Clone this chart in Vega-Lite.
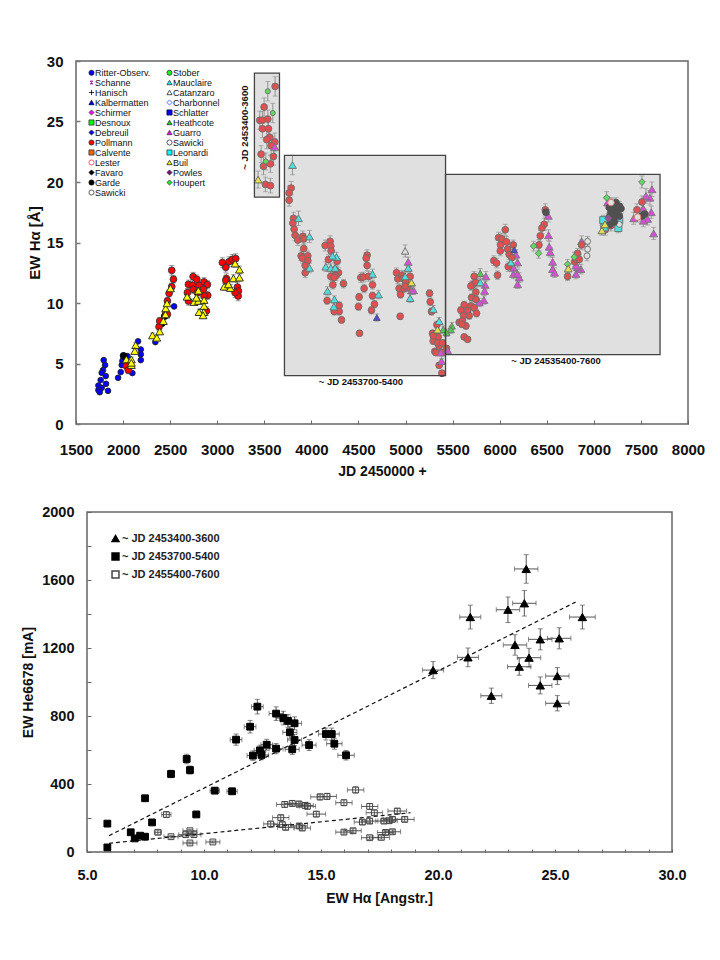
{"$schema":"https://vega.github.io/schema/vega-lite/v6.json","background":"white","padding":{"left":21,"top":53,"right":5,"bottom":5},"spacing":25,"resolve":{"scale":{"fill":"independent","stroke":"independent","shape":"independent","size":"independent"},"legend":{"fill":"independent","stroke":"independent","shape":"independent"}},"config":{"view":{"stroke":"#666","strokeWidth":1.5},"font":"Liberation Sans"},
"datasets":{
"ha":[
{"s":"Ritter-Observ.","x":1794,"y":5.28,"e":0.1},{"s":"Ritter-Observ.","x":1809,"y":4.87,"e":0.1},{"s":"Ritter-Observ.","x":1787,"y":4.45,"e":0.1},{"s":"Ritter-Observ.","x":1773,"y":4.23,"e":0.1},{"s":"Ritter-Observ.","x":1816,"y":3.96,"e":0.1},{"s":"Ritter-Observ.","x":1762,"y":3.63,"e":0.1},{"s":"Ritter-Observ.","x":1819,"y":3.32,"e":0.1},{"s":"Ritter-Observ.","x":1738,"y":3.18,"e":0.1},{"s":"Ritter-Observ.","x":1773,"y":2.99,"e":0.1},{"s":"Ritter-Observ.","x":1738,"y":2.8,"e":0.1},{"s":"Ritter-Observ.","x":1840,"y":2.74,"e":0.1},{"s":"Ritter-Observ.","x":1752,"y":2.63,"e":0.1},{"s":"Ritter-Observ.","x":1947,"y":3.82,"e":0.1},{"s":"Ritter-Observ.","x":1975,"y":4.29,"e":0.1},{"s":"Ritter-Observ.","x":1986,"y":4.87,"e":0.1},{"s":"Ritter-Observ.","x":2000,"y":5.67,"e":0.1},{"s":"Ritter-Observ.","x":2003,"y":5.34,"e":0.1},{"s":"Ritter-Observ.","x":2099,"y":4.21,"e":0.1},{"s":"Ritter-Observ.","x":2188,"y":6.16,"e":0.1},{"s":"Ritter-Observ.","x":2188,"y":5.75,"e":0.1},{"s":"Ritter-Observ.","x":2188,"y":5.28,"e":0.1},{"s":"Ritter-Observ.","x":2159,"y":6.83,"e":0.1},{"s":"Ritter-Observ.","x":2343,"y":6.77,"e":0.1},{"s":"Ritter-Observ.","x":2542,"y":9.72,"e":0.1},{"s":"Ritter-Observ.","x":2046,"y":5.61,"e":0.1},{"s":"Ritter-Observ.","x":1993,"y":5.2,"e":0.1},
{"s":"Garde","x":2443,"y":8.92,"e":0.2},{"s":"Garde","x":2411,"y":8.32,"e":0.2},{"s":"Garde","x":2056,"y":4.84,"e":0.2},{"s":"Garde","x":2010,"y":5.61,"e":0.2},
{"s":"Pollmann","x":2035,"y":4.8,"e":0.3},{"s":"Pollmann","x":2056,"y":4.45,"e":0.3},{"s":"Pollmann","x":2517,"y":12.7,"e":0.4},{"s":"Pollmann","x":2535,"y":11.96,"e":0.3},{"s":"Pollmann","x":2517,"y":11.35,"e":0.3},{"s":"Pollmann","x":2489,"y":10.8,"e":0.3},{"s":"Pollmann","x":2471,"y":10.17,"e":0.3},{"s":"Pollmann","x":2453,"y":9.2,"e":0.3},{"s":"Pollmann","x":2471,"y":9.06,"e":0.3},{"s":"Pollmann","x":2382,"y":8.04,"e":0.3},{"s":"Pollmann","x":2389,"y":8.51,"e":0.3},
{"s":"Pollmann","x":2744,"y":12.18,"e":0.35},{"s":"Pollmann","x":2783,"y":11.96,"e":0.35},{"s":"Pollmann","x":2694,"y":11.54,"e":0.35},{"s":"Pollmann","x":2737,"y":11.46,"e":0.35},{"s":"Pollmann","x":2807,"y":11.46,"e":0.35},{"s":"Pollmann","x":2860,"y":11.74,"e":0.35},{"s":"Pollmann","x":2896,"y":11.52,"e":0.35},{"s":"Pollmann","x":2683,"y":10.85,"e":0.35},{"s":"Pollmann","x":2744,"y":11.13,"e":0.35},{"s":"Pollmann","x":2853,"y":11.13,"e":0.35},{"s":"Pollmann","x":2899,"y":10.63,"e":0.35},{"s":"Pollmann","x":2694,"y":10.17,"e":0.35},{"s":"Pollmann","x":2790,"y":10.85,"e":0.35},{"s":"Pollmann","x":2860,"y":10.58,"e":0.35},{"s":"Pollmann","x":2885,"y":9.34,"e":0.35},
{"s":"Pollmann","x":3055,"y":13.34,"e":0.4},{"s":"Pollmann","x":3091,"y":12.95,"e":0.4},{"s":"Pollmann","x":3126,"y":13.42,"e":0.4},{"s":"Pollmann","x":3162,"y":13.61,"e":0.4},{"s":"Pollmann","x":3197,"y":13.67,"e":0.4},{"s":"Pollmann","x":3098,"y":12.01,"e":0.4},{"s":"Pollmann","x":3091,"y":11.88,"e":0.4},{"s":"Pollmann","x":3215,"y":11.32,"e":0.4},{"s":"Pollmann","x":3225,"y":10.99,"e":0.4},{"s":"Pollmann","x":3222,"y":10.58,"e":0.4},{"s":"Pollmann","x":3190,"y":10.85,"e":0.4},
{"s":"Pollmann","x":3615,"y":27.9,"e":0.8},{"s":"Pollmann","x":3498,"y":26.2,"e":0.75},{"s":"Pollmann","x":3537,"y":25.2,"e":0.75},{"s":"Pollmann","x":3452,"y":25.1,"e":0.75},{"s":"Pollmann","x":3480,"y":25.1,"e":0.75},{"s":"Pollmann","x":3480,"y":24.4,"e":0.75},{"s":"Pollmann","x":3544,"y":24.4,"e":0.75},{"s":"Pollmann","x":3558,"y":23.7,"e":0.75},{"s":"Pollmann","x":3526,"y":23.5,"e":0.75},{"s":"Pollmann","x":3611,"y":23.3,"e":0.75},{"s":"Pollmann","x":3572,"y":23.0,"e":0.75},{"s":"Pollmann","x":3466,"y":22.3,"e":0.7},{"s":"Pollmann","x":3597,"y":22.1,"e":0.7},{"s":"Pollmann","x":3565,"y":21.5,"e":0.7},{"s":"Pollmann","x":3491,"y":21.3,"e":0.7},{"s":"Pollmann","x":3512,"y":19.8,"e":0.6},{"s":"Pollmann","x":3565,"y":19.7,"e":0.6},
{"s":"Pollmann","x":3785,"y":19.5,"e":0.55},{"s":"Pollmann","x":3764,"y":19.1,"e":0.55},{"s":"Pollmann","x":3764,"y":18.5,"e":0.5},{"s":"Pollmann","x":3810,"y":17.0,"e":0.5},{"s":"Pollmann","x":3803,"y":16.6,"e":0.5},{"s":"Pollmann","x":3817,"y":16.1,"e":0.5},{"s":"Pollmann","x":3827,"y":15.6,"e":0.45},{"s":"Pollmann","x":3856,"y":15.2,"e":0.45},{"s":"Pollmann","x":3909,"y":15.5,"e":0.45},{"s":"Pollmann","x":3919,"y":15.3,"e":0.45},{"s":"Pollmann","x":3919,"y":14.5,"e":0.45},{"s":"Pollmann","x":3891,"y":13.9,"e":0.4},{"s":"Pollmann","x":3962,"y":13.9,"e":0.4},{"s":"Pollmann","x":3905,"y":13.7,"e":0.4},{"s":"Pollmann","x":3962,"y":13.5,"e":0.4},{"s":"Pollmann","x":3934,"y":13.1,"e":0.4},{"s":"Pollmann","x":3934,"y":12.5,"e":0.4},
{"s":"Pollmann","x":4146,"y":14.75,"e":0.45},{"s":"Pollmann","x":4199,"y":15.1,"e":0.45},{"s":"Pollmann","x":4206,"y":14.7,"e":0.45},{"s":"Pollmann","x":4210,"y":14.3,"e":0.45},{"s":"Pollmann","x":4181,"y":13.6,"e":0.4},{"s":"Pollmann","x":4274,"y":13.45,"e":0.4},{"s":"Pollmann","x":4252,"y":12.75,"e":0.4},{"s":"Pollmann","x":4288,"y":12.5,"e":0.4},{"s":"Pollmann","x":4259,"y":12.25,"e":0.4},{"s":"Pollmann","x":4206,"y":12.2,"e":0.4},{"s":"Pollmann","x":4242,"y":12.1,"e":0.4},{"s":"Pollmann","x":4228,"y":11.5,"e":0.35},{"s":"Pollmann","x":4341,"y":11.6,"e":0.35},{"s":"Pollmann","x":4167,"y":10.2,"e":0.3},{"s":"Pollmann","x":4295,"y":9.8,"e":0.3},{"s":"Pollmann","x":4295,"y":9.3,"e":0.3},{"s":"Pollmann","x":4242,"y":9.3,"e":0.3},{"s":"Pollmann","x":4320,"y":8.6,"e":0.25},
{"s":"Pollmann","x":4592,"y":13.95,"e":0.45},{"s":"Pollmann","x":4582,"y":13.7,"e":0.45},{"s":"Pollmann","x":4592,"y":13.1,"e":0.4},{"s":"Pollmann","x":4525,"y":12.1,"e":0.4},{"s":"Pollmann","x":4553,"y":12.15,"e":0.4},{"s":"Pollmann","x":4607,"y":12.2,"e":0.4},{"s":"Pollmann","x":4560,"y":11.2,"e":0.35},{"s":"Pollmann","x":4649,"y":11.5,"e":0.35},{"s":"Pollmann","x":4507,"y":10.5,"e":0.3},{"s":"Pollmann","x":4649,"y":10.6,"e":0.3},{"s":"Pollmann","x":4500,"y":9.7,"e":0.3},{"s":"Pollmann","x":4670,"y":9.9,"e":0.3},{"s":"Pollmann","x":4638,"y":9.4,"e":0.3},{"s":"Pollmann","x":4511,"y":7.5,"e":0.2},
{"s":"Pollmann","x":4904,"y":12.5,"e":0.4},{"s":"Pollmann","x":4918,"y":12.0,"e":0.4},{"s":"Pollmann","x":4961,"y":12.3,"e":0.4},{"s":"Pollmann","x":4975,"y":12.0,"e":0.4},{"s":"Pollmann","x":5049,"y":12.2,"e":0.4},{"s":"Pollmann","x":5003,"y":11.8,"e":0.35},{"s":"Pollmann","x":4932,"y":11.2,"e":0.35},{"s":"Pollmann","x":4986,"y":11.2,"e":0.35},{"s":"Pollmann","x":5021,"y":11.3,"e":0.35},{"s":"Pollmann","x":4947,"y":10.7,"e":0.3},{"s":"Pollmann","x":4996,"y":11.4,"e":0.35},{"s":"Pollmann","x":4943,"y":8.9,"e":0.25},
{"s":"Pollmann","x":5255,"y":10.8,"e":0.3},{"s":"Pollmann","x":5262,"y":10.1,"e":0.3},{"s":"Pollmann","x":5276,"y":9.3,"e":0.3},{"s":"Pollmann","x":5333,"y":8.2,"e":0.3},{"s":"Pollmann","x":5287,"y":7.5,"e":0.25},{"s":"Pollmann","x":5347,"y":7.2,"e":0.25},{"s":"Pollmann","x":5294,"y":6.85,"e":0.25},{"s":"Pollmann","x":5357,"y":6.45,"e":0.25},{"s":"Pollmann","x":5311,"y":6.0,"e":0.2},{"s":"Pollmann","x":5382,"y":5.9,"e":0.2},{"s":"Pollmann","x":5435,"y":6.25,"e":0.2},{"s":"Pollmann","x":5393,"y":5.9,"e":0.2},{"s":"Pollmann","x":5357,"y":4.85,"e":0.2},{"s":"Pollmann","x":5386,"y":4.2,"e":0.2},{"s":"Pollmann","x":5294,"y":7.3,"e":0.25},{"s":"Pollmann","x":5340,"y":6.7,"e":0.25},{"s":"Pollmann","x":5393,"y":6.7,"e":0.25},{"s":"Pollmann","x":5322,"y":5.9,"e":0.2},
{"s":"Guarro","x":5853,"y":12.2,"e":0.4},{"s":"Guarro","x":5846,"y":11.5,"e":0.4},{"s":"Guarro","x":5839,"y":11.0,"e":0.35},{"s":"Guarro","x":5832,"y":10.25,"e":0.35},{"s":"Guarro","x":5783,"y":10.05,"e":0.35},{"s":"Guarro","x":6172,"y":14.0,"e":0.4},{"s":"Guarro","x":6190,"y":13.35,"e":0.4},{"s":"Guarro","x":6147,"y":12.9,"e":0.4},{"s":"Guarro","x":6147,"y":12.4,"e":0.4},{"s":"Guarro","x":6208,"y":12.1,"e":0.4},{"s":"Guarro","x":6190,"y":11.55,"e":0.35},{"s":"Guarro","x":6190,"y":12.4,"e":0.4},{"s":"Guarro","x":6516,"y":17.2,"e":0.5},{"s":"Guarro","x":6519,"y":15.6,"e":0.45},{"s":"Guarro","x":6526,"y":14.65,"e":0.45},{"s":"Guarro","x":6537,"y":14.2,"e":0.4},{"s":"Guarro","x":6562,"y":13.4,"e":0.4},{"s":"Guarro","x":6562,"y":12.8,"e":0.4},{"s":"Guarro","x":6583,"y":12.5,"e":0.4},{"s":"Guarro","x":6870,"y":15.1,"e":0.45},{"s":"Guarro","x":6863,"y":12.8,"e":0.4},{"s":"Guarro","x":6810,"y":12.4,"e":0.4},{"s":"Guarro","x":6827,"y":12.95,"e":0.4},{"s":"Guarro","x":6810,"y":13.1,"e":0.4},{"s":"Guarro","x":7423,"y":17.0,"e":0.5},{"s":"Guarro","x":7617,"y":19.4,"e":0.6},{"s":"Guarro","x":7596,"y":18.7,"e":0.6},{"s":"Guarro","x":7554,"y":18.85,"e":0.6},{"s":"Guarro","x":7610,"y":17.5,"e":0.5},{"s":"Guarro","x":7525,"y":17.8,"e":0.5},{"s":"Guarro","x":7635,"y":15.75,"e":0.5},{"s":"Guarro","x":7571,"y":16.95,"e":0.5},{"s":"Guarro","x":7146,"y":18.3,"e":0.5},{"s":"Guarro","x":7525,"y":16.8,"e":0.5},{"s":"Guarro","x":5028,"y":13.4,"e":0.4},{"s":"Guarro","x":5063,"y":11.05,"e":0.35},{"s":"Guarro","x":5085,"y":11.05,"e":0.35},{"s":"Guarro","x":5382,"y":5.2,"e":0.2},{"s":"Guarro","x":5375,"y":5.9,"e":0.2},{"s":"Guarro","x":5446,"y":6.1,"e":0.2},{"s":"Guarro","x":3611,"y":22.9,"e":0.7},
{"s":"Pollmann","x":5729,"y":12.2,"e":0.4},{"s":"Pollmann","x":5712,"y":11.5,"e":0.35},{"s":"Pollmann","x":5747,"y":11.7,"e":0.35},{"s":"Pollmann","x":5694,"y":11.4,"e":0.35},{"s":"Pollmann","x":5747,"y":10.9,"e":0.35},{"s":"Pollmann","x":5701,"y":10.45,"e":0.3},{"s":"Pollmann","x":5747,"y":10.3,"e":0.3},{"s":"Pollmann","x":5623,"y":9.85,"e":0.3},{"s":"Pollmann","x":5694,"y":9.75,"e":0.3},{"s":"Pollmann","x":5588,"y":9.4,"e":0.3},{"s":"Pollmann","x":5659,"y":9.35,"e":0.3},{"s":"Pollmann","x":5729,"y":9.6,"e":0.3},{"s":"Pollmann","x":5754,"y":9.15,"e":0.3},{"s":"Pollmann","x":5676,"y":8.95,"e":0.3},{"s":"Pollmann","x":5616,"y":8.95,"e":0.3},{"s":"Pollmann","x":5570,"y":8.4,"e":0.25},{"s":"Pollmann","x":5605,"y":8.5,"e":0.25},{"s":"Pollmann","x":5641,"y":8.1,"e":0.25},{"s":"Pollmann","x":5598,"y":8.25,"e":0.25},{"s":"Pollmann","x":5623,"y":7.2,"e":0.2},{"s":"Pollmann","x":5659,"y":7.0,"e":0.2},
{"s":"Pollmann","x":6059,"y":16.05,"e":0.45},{"s":"Pollmann","x":5988,"y":15.4,"e":0.45},{"s":"Pollmann","x":6023,"y":15.3,"e":0.45},{"s":"Pollmann","x":6073,"y":15.05,"e":0.45},{"s":"Pollmann","x":6009,"y":14.8,"e":0.45},{"s":"Pollmann","x":6006,"y":14.3,"e":0.4},{"s":"Pollmann","x":6084,"y":14.45,"e":0.4},{"s":"Pollmann","x":6101,"y":14.0,"e":0.4},{"s":"Pollmann","x":6144,"y":14.8,"e":0.4},{"s":"Pollmann","x":6130,"y":13.75,"e":0.4},{"s":"Pollmann","x":6091,"y":13.0,"e":0.4},{"s":"Pollmann","x":5938,"y":13.5,"e":0.4},{"s":"Pollmann","x":5967,"y":13.3,"e":0.4},{"s":"Pollmann","x":5977,"y":12.3,"e":0.35},{"s":"Pollmann","x":6484,"y":17.7,"e":0.5},{"s":"Pollmann","x":6473,"y":16.5,"e":0.5},{"s":"Pollmann","x":6449,"y":16.2,"e":0.45},{"s":"Pollmann","x":6431,"y":15.55,"e":0.45},{"s":"Pollmann","x":6417,"y":14.8,"e":0.45},{"s":"Pollmann","x":6827,"y":14.1,"e":0.4},{"s":"Pollmann","x":6870,"y":14.8,"e":0.4},{"s":"Pollmann","x":6796,"y":13.4,"e":0.4},{"s":"Pollmann","x":6810,"y":13.6,"e":0.4},{"s":"Pollmann","x":6721,"y":12.2,"e":0.35},{"s":"Pollmann","x":6845,"y":13.6,"e":0.4},{"s":"Pollmann","x":7458,"y":17.7,"e":0.5},{"s":"Pollmann","x":7511,"y":18.35,"e":0.5},{"s":"Pollmann","x":7121,"y":16.05,"e":0.45},{"s":"Pollmann","x":7182,"y":16.4,"e":0.45},
{"s":"Mauclaire","x":3799,"y":21.4,"e":0.8},{"s":"Mauclaire","x":3863,"y":17.0,"e":0.6},{"s":"Mauclaire","x":3980,"y":15.5,"e":0.5},{"s":"Mauclaire","x":3980,"y":12.9,"e":0.4},{"s":"Mauclaire","x":4267,"y":13.8,"e":0.4},{"s":"Mauclaire","x":4224,"y":13.9,"e":0.4},{"s":"Mauclaire","x":4153,"y":13.0,"e":0.4},{"s":"Mauclaire","x":4206,"y":12.9,"e":0.4},{"s":"Mauclaire","x":4252,"y":12.9,"e":0.4},{"s":"Mauclaire","x":4171,"y":11.0,"e":0.35},{"s":"Mauclaire","x":4245,"y":10.3,"e":0.3},{"s":"Mauclaire","x":4238,"y":9.7,"e":0.3},{"s":"Mauclaire","x":4649,"y":12.4,"e":0.4},{"s":"Mauclaire","x":4713,"y":10.7,"e":0.35},{"s":"Mauclaire","x":5028,"y":12.9,"e":0.4},{"s":"Mauclaire","x":5049,"y":10.4,"e":0.35},{"s":"Mauclaire","x":4996,"y":12.2,"e":0.4},{"s":"Mauclaire","x":5294,"y":9.5,"e":0.3},{"s":"Mauclaire","x":5357,"y":8.5,"e":0.3},{"s":"Mauclaire","x":6119,"y":13.35,"e":0.4},{"s":"Mauclaire","x":5793,"y":11.7,"e":0.35},
{"s":"Catanzaro","x":4996,"y":14.3,"e":0.5},{"s":"Kalbermatten","x":4695,"y":8.8,"e":0.3},{"s":"Kalbermatten","x":6154,"y":14.4,"e":0.4},
{"s":"Heathcote","x":5400,"y":7.8,"e":0.3},{"s":"Heathcote","x":5492,"y":8.1,"e":0.3},{"s":"Heathcote","x":5481,"y":7.8,"e":0.3},{"s":"Heathcote","x":5793,"y":12.45,"e":0.4},{"s":"Heathcote","x":5435,"y":7.55,"e":0.3},
{"s":"Stober","x":3537,"y":27.5,"e":0.8},{"s":"Stober","x":3590,"y":25.7,"e":0.8},{"s":"Stober","x":3516,"y":21.7,"e":0.7},
{"s":"Houpert","x":6360,"y":14.7,"e":0.4},{"s":"Houpert","x":6413,"y":14.1,"e":0.4},{"s":"Houpert","x":6721,"y":13.2,"e":0.4},{"s":"Houpert","x":7136,"y":18.7,"e":0.5},{"s":"Houpert","x":7511,"y":20.0,"e":0.5},{"s":"Houpert","x":6792,"y":13.8,"e":0.4},
{"s":"Leonardi","x":7100,"y":16.85,"e":0.4},{"s":"Leonardi","x":7270,"y":16.85,"e":0.4},{"s":"Leonardi","x":7260,"y":16.2,"e":0.4},{"s":"Leonardi","x":7111,"y":16.25,"e":0.4},
{"s":"Sawicki ","x":6934,"y":15.1,"e":0.4},{"s":"Sawicki ","x":6934,"y":14.45,"e":0.4},{"s":"Sawicki ","x":6927,"y":13.9,"e":0.4},{"s":"Sawicki ","x":7263,"y":17.1,"e":0.4},{"s":"Sawicki ","x":7270,"y":16.5,"e":0.4},
{"s":"Garde","x":7164,"y":17.9,"e":0.4},{"s":"Garde","x":7199,"y":18.2,"e":0.4},{"s":"Garde","x":7235,"y":18.3,"e":0.4},{"s":"Garde","x":7270,"y":18.0,"e":0.4},{"s":"Garde","x":7182,"y":17.5,"e":0.4},{"s":"Garde","x":7235,"y":17.5,"e":0.4},{"s":"Garde","x":7288,"y":17.8,"e":0.4},{"s":"Garde","x":7164,"y":17.1,"e":0.4},{"s":"Garde","x":7217,"y":17.1,"e":0.4},{"s":"Garde","x":7270,"y":17.2,"e":0.4},{"s":"Garde","x":7171,"y":16.5,"e":0.4},{"s":"Garde","x":7217,"y":18.0,"e":0.4},{"s":"Garde","x":7253,"y":17.8,"e":0.4},{"s":"Garde","x":6491,"y":17.5,"e":0.4},{"s":"Garde","x":7511,"y":17.2,"e":0.4},{"s":"Garde","x":7539,"y":17.35,"e":0.4},{"s":"Garde","x":7217,"y":16.7,"e":0.4},
{"s":"Powles","x":7153,"y":17.0,"e":0.4},{"s":"Lester","x":7182,"y":18.3,"e":0.4},{"s":"Lester","x":7465,"y":17.1,"e":0.4},
{"s":"Buil","x":2035,"y":5.34,"e":0.2},{"s":"Buil","x":2088,"y":5.34,"e":0.2},{"s":"Buil","x":2088,"y":4.87,"e":0.2},{"s":"Buil","x":2088,"y":5.06,"e":0.2},{"s":"Buil","x":2134,"y":6.52,"e":0.2},{"s":"Buil","x":2124,"y":6.03,"e":0.2},{"s":"Buil","x":2312,"y":7.32,"e":0.2},{"s":"Buil","x":2358,"y":7.13,"e":0.2},{"s":"Buil","x":2389,"y":7.65,"e":0.2},{"s":"Buil","x":2428,"y":8.51,"e":0.2},{"s":"Buil","x":2450,"y":9.06,"e":0.2},{"s":"Buil","x":2453,"y":9.56,"e":0.2},{"s":"Buil","x":2467,"y":9.97,"e":0.2},{"s":"Buil","x":2503,"y":11.21,"e":0.2},
{"s":"Buil","x":2680,"y":10.52,"e":0.25},{"s":"Buil","x":2800,"y":11.02,"e":0.25},{"s":"Buil","x":2754,"y":10.08,"e":0.25},{"s":"Buil","x":2800,"y":10.17,"e":0.25},{"s":"Buil","x":2860,"y":10.25,"e":0.25},{"s":"Buil","x":2860,"y":9.75,"e":0.25},{"s":"Buil","x":2857,"y":9.25,"e":0.25},{"s":"Buil","x":2807,"y":9.25,"e":0.25},{"s":"Buil","x":2850,"y":8.98,"e":0.25},{"s":"Buil","x":2779,"y":10.44,"e":0.25},
{"s":"Buil","x":3190,"y":13.26,"e":0.3},{"s":"Buil","x":3236,"y":12.76,"e":0.3},{"s":"Buil","x":3172,"y":12.04,"e":0.3},{"s":"Buil","x":3236,"y":12.1,"e":0.3},{"s":"Buil","x":3073,"y":11.35,"e":0.3},{"s":"Buil","x":3140,"y":11.24,"e":0.3},{"s":"Buil","x":3119,"y":11.54,"e":0.3},{"s":"Buil","x":3434,"y":20.2,"e":0.7},{"s":"Buil","x":5340,"y":7.8,"e":0.3},{"s":"Buil","x":5063,"y":11.7,"e":0.35},{"s":"Buil","x":6728,"y":12.85,"e":0.4},{"s":"Buil","x":7086,"y":16.0,"e":0.4},{"s":"Buil","x":7118,"y":16.5,"e":0.4}
],
"boxes":[{"a":3395,"b":3661,"lo":18.75,"hi":29.0},{"a":3714,"b":5425,"lo":3.99,"hi":22.2},{"a":5425,"b":7703,"lo":5.73,"hi":20.63}],
"boxlabels":[{"t":"~ JD 2453400-3600","x":3293,"y":24.49,"r":"v"},{"t":"~ JD 2453700-5400","x":4525,"y":3.44,"r":"h"},{"t":"~ JD 24535400-7600","x":6598,"y":5.17,"r":"h"}],
"frame":[{"a":5,"b":30,"lo":0,"hi":2000}],
"he":[
{"s":"~ JD 2453400-3600","x":23.77,"y":1665,"xe":0.5,"ye":84},{"s":"~ JD 2453400-3600","x":23.69,"y":1463,"xe":0.5,"ye":75},{"s":"~ JD 2453400-3600","x":22.99,"y":1425,"xe":0.5,"ye":75},{"s":"~ JD 2453400-3600","x":21.38,"y":1382,"xe":0.45,"ye":70},{"s":"~ JD 2453400-3600","x":26.17,"y":1382,"xe":0.55,"ye":70},{"s":"~ JD 2453400-3600","x":24.37,"y":1251,"xe":0.5,"ye":62},{"s":"~ JD 2453400-3600","x":25.18,"y":1257,"xe":0.5,"ye":62},{"s":"~ JD 2453400-3600","x":23.29,"y":1218,"xe":0.5,"ye":60},{"s":"~ JD 2453400-3600","x":23.89,"y":1143,"xe":0.5,"ye":55},{"s":"~ JD 2453400-3600","x":21.28,"y":1145,"xe":0.45,"ye":55},{"s":"~ JD 2453400-3600","x":19.79,"y":1070,"xe":0.45,"ye":50},{"s":"~ JD 2453400-3600","x":23.47,"y":1090,"xe":0.5,"ye":50},{"s":"~ JD 2453400-3600","x":25.1,"y":1035,"xe":0.5,"ye":50},{"s":"~ JD 2453400-3600","x":24.37,"y":980,"xe":0.5,"ye":50},{"s":"~ JD 2453400-3600","x":22.28,"y":919,"xe":0.45,"ye":45},{"s":"~ JD 2453400-3600","x":25.1,"y":875,"xe":0.5,"ye":45},
{"s":"~ JD 2453700-5400","x":5.87,"y":167,"xe":0.1,"ye":8},{"s":"~ JD 2453700-5400","x":5.87,"y":27,"xe":0.1,"ye":5},{"s":"~ JD 2453700-5400","x":6.87,"y":116,"xe":0.1,"ye":6},{"s":"~ JD 2453700-5400","x":7.04,"y":80,"xe":0.1,"ye":5},{"s":"~ JD 2453700-5400","x":7.27,"y":96,"xe":0.1,"ye":5},{"s":"~ JD 2453700-5400","x":7.48,"y":90,"xe":0.1,"ye":5},{"s":"~ JD 2453700-5400","x":7.48,"y":316,"xe":0.1,"ye":15},{"s":"~ JD 2453700-5400","x":7.78,"y":174,"xe":0.1,"ye":9},{"s":"~ JD 2453700-5400","x":8.59,"y":459,"xe":0.1,"ye":22},{"s":"~ JD 2453700-5400","x":9.26,"y":547,"xe":0.1,"ye":28},{"s":"~ JD 2453700-5400","x":9.4,"y":482,"xe":0.1,"ye":24},{"s":"~ JD 2453700-5400","x":9.67,"y":221,"xe":0.15,"ye":11},{"s":"~ JD 2453700-5400","x":10.46,"y":361,"xe":0.2,"ye":18},{"s":"~ JD 2453700-5400","x":11.2,"y":357,"xe":0.22,"ye":18},{"s":"~ JD 2453700-5400","x":11.37,"y":661,"xe":0.25,"ye":33},{"s":"~ JD 2453700-5400","x":11.97,"y":737,"xe":0.25,"ye":37},{"s":"~ JD 2453700-5400","x":12.28,"y":855,"xe":0.25,"ye":43},{"s":"~ JD 2453700-5400","x":12.09,"y":567,"xe":0.25,"ye":28},{"s":"~ JD 2453700-5400","x":12.39,"y":598,"xe":0.25,"ye":30},{"s":"~ JD 2453700-5400","x":12.46,"y":571,"xe":0.3,"ye":28},{"s":"~ JD 2453700-5400","x":12.68,"y":631,"xe":0.25,"ye":32},{"s":"~ JD 2453700-5400","x":13.08,"y":608,"xe":0.3,"ye":30},{"s":"~ JD 2453700-5400","x":13.08,"y":814,"xe":0.3,"ye":40},{"s":"~ JD 2453700-5400","x":13.39,"y":788,"xe":0.3,"ye":40},{"s":"~ JD 2453700-5400","x":13.59,"y":771,"xe":0.3,"ye":38},{"s":"~ JD 2453700-5400","x":13.87,"y":757,"xe":0.3,"ye":38},{"s":"~ JD 2453700-5400","x":13.67,"y":704,"xe":0.3,"ye":35},{"s":"~ JD 2453700-5400","x":13.87,"y":659,"xe":0.3,"ye":33},{"s":"~ JD 2453700-5400","x":13.77,"y":604,"xe":0.3,"ye":30},{"s":"~ JD 2453700-5400","x":14.49,"y":629,"xe":0.3,"ye":32},{"s":"~ JD 2453700-5400","x":15.21,"y":694,"xe":0.32,"ye":35},{"s":"~ JD 2453700-5400","x":15.46,"y":694,"xe":0.32,"ye":35},{"s":"~ JD 2453700-5400","x":15.57,"y":637,"xe":0.33,"ye":32},{"s":"~ JD 2453700-5400","x":16.07,"y":569,"xe":0.35,"ye":28},
{"s":"~ JD 2455400-7600","x":8.39,"y":220,"xe":0.2,"ye":15},{"s":"~ JD 2455400-7600","x":8.03,"y":116,"xe":0.15,"ye":12},{"s":"~ JD 2455400-7600","x":8.59,"y":90,"xe":0.3,"ye":8},{"s":"~ JD 2455400-7600","x":9.22,"y":102,"xe":0.3,"ye":8},{"s":"~ JD 2455400-7600","x":9.4,"y":125,"xe":0.3,"ye":8},{"s":"~ JD 2455400-7600","x":9.57,"y":102,"xe":0.3,"ye":8},{"s":"~ JD 2455400-7600","x":9.4,"y":53,"xe":0.3,"ye":6},{"s":"~ JD 2455400-7600","x":10.38,"y":59,"xe":0.3,"ye":6},{"s":"~ JD 2455400-7600","x":12.85,"y":165,"xe":0.3,"ye":14},{"s":"~ JD 2455400-7600","x":13.28,"y":202,"xe":0.35,"ye":15},{"s":"~ JD 2455400-7600","x":13.35,"y":161,"xe":0.35,"ye":14},{"s":"~ JD 2455400-7600","x":13.49,"y":145,"xe":0.35,"ye":14},{"s":"~ JD 2455400-7600","x":14.07,"y":153,"xe":0.35,"ye":14},{"s":"~ JD 2455400-7600","x":14.2,"y":141,"xe":0.35,"ye":14},{"s":"~ JD 2455400-7600","x":14.8,"y":223,"xe":0.4,"ye":15},{"s":"~ JD 2455400-7600","x":13.45,"y":280,"xe":0.35,"ye":17},{"s":"~ JD 2455400-7600","x":13.77,"y":286,"xe":0.35,"ye":17},{"s":"~ JD 2455400-7600","x":14.06,"y":282,"xe":0.35,"ye":17},{"s":"~ JD 2455400-7600","x":14.32,"y":274,"xe":0.35,"ye":17},{"s":"~ JD 2455400-7600","x":14.42,"y":269,"xe":0.35,"ye":17},{"s":"~ JD 2455400-7600","x":14.96,"y":324,"xe":0.4,"ye":18},{"s":"~ JD 2455400-7600","x":15.26,"y":327,"xe":0.4,"ye":18},
{"s":"~ JD 2455400-7600","x":16.48,"y":365,"xe":0.35,"ye":18},{"s":"~ JD 2455400-7600","x":15.98,"y":290,"xe":0.35,"ye":17},{"s":"~ JD 2455400-7600","x":17.08,"y":268,"xe":0.35,"ye":17},{"s":"~ JD 2455400-7600","x":17.28,"y":231,"xe":0.35,"ye":15},{"s":"~ JD 2455400-7600","x":18.26,"y":241,"xe":0.4,"ye":15},{"s":"~ JD 2455400-7600","x":16.77,"y":176,"xe":0.35,"ye":14},{"s":"~ JD 2455400-7600","x":17.08,"y":182,"xe":0.35,"ye":14},{"s":"~ JD 2455400-7600","x":17.69,"y":182,"xe":0.35,"ye":14},{"s":"~ JD 2455400-7600","x":18.05,"y":192,"xe":0.4,"ye":14},{"s":"~ JD 2455400-7600","x":18.58,"y":192,"xe":0.4,"ye":14},{"s":"~ JD 2455400-7600","x":15.98,"y":117,"xe":0.35,"ye":12},{"s":"~ JD 2455400-7600","x":16.37,"y":125,"xe":0.35,"ye":12},{"s":"~ JD 2455400-7600","x":17.08,"y":84,"xe":0.35,"ye":10},{"s":"~ JD 2455400-7600","x":17.58,"y":86,"xe":0.35,"ye":10},{"s":"~ JD 2455400-7600","x":17.76,"y":115,"xe":0.35,"ye":12},{"s":"~ JD 2455400-7600","x":18.05,"y":119,"xe":0.35,"ye":12},{"s":"~ JD 2455400-7600","x":17.91,"y":184,"xe":0.35,"ye":14}
],
"fits":[{"f":"a","x":5.94,"y":96},{"f":"a","x":25.88,"y":1470},{"f":"b","x":5.94,"y":51},{"f":"b","x":18.83,"y":231}]
},
"vconcat":[
{"width":612,"height":363,
"encoding":{"x":{"field":"x","type":"quantitative","scale":{"domain":[1500,8000],"nice":false},"axis":{"values":[1500,2000,2500,3000,3500,4000,4500,5000,5500,6000,6500,7000,7500,8000],"format":"d","labelOverlap":false,"labelFlush":false,"title":"JD 2450000 +","domain":false,"grid":false,"tickSize":-4,"tickColor":"#666","labelPadding":22,"labelFont":"Liberation Sans","labelFontWeight":"bold","labelFontSize":15,"labelColor":"#111","titleFont":"Liberation Sans","titleFontWeight":"bold","titleFontSize":14,"titleColor":"#111","titlePadding":7}},
"y":{"field":"y","type":"quantitative","scale":{"domain":[0,30],"nice":false},"axis":{"values":[0,5,10,15,20,25,30],"labelOverlap":false,"labelFlush":false,"title":"EW Hα [Å]","domain":false,"grid":false,"tickSize":-4,"tickColor":"#777","tickWidth":1.5,"labelPadding":17,"labelFont":"Liberation Sans","labelFontWeight":"bold","labelFontSize":15,"labelColor":"#111","titleFont":"Liberation Sans","titleFontWeight":"bold","titleFontSize":15,"titleColor":"#111","titlePadding":4}}},
"layer":[
{"data":{"name":"ha"},"mark":{"type":"errorbar","ticks":{"size":5,"color":"#777"},"rule":{"color":"#777"}},"encoding":{"yError":{"field":"e"}}},
{"data":{"name":"ha"},"mark":{"type":"point","strokeWidth":0.9,"opacity":1,"fillOpacity":1},
"encoding":{
"size":{"field":"s","type":"nominal","scale":{"type":"ordinal","domain":["Houpert","Powles","Buil","Leonardi","Sawicki ","Guarro","Heathcote","Schlatter","Charbonnel","Catanzaro","Mauclaire","Stober","Sawicki","Garde","Favaro","Lester","Calvente","Pollmann","Debreuil","Desnoux","Schirmer","Kalbermatten","Hanisch","Schanne","Ritter-Observ."],"range":[45,50,62,50,35,62,50,40,35,55,60,26,35,46,35,42,40,46,35,35,35,45,25,20,32]},"legend":null},
"fill":{"field":"s","type":"nominal","scale":{"domain":["Ritter-Observ.","Schanne","Hanisch","Kalbermatten","Schirmer","Desnoux","Debreuil","Pollmann","Calvente","Lester","Favaro","Garde","Sawicki","Stober","Mauclaire","Catanzaro","Charbonnel","Schlatter","Heathcote","Guarro","Sawicki ","Leonardi","Buil","Powles","Houpert"],"range":["#0000ff","#aa33aa","#000000","#0000dd","#ff00ff","#00ff00","#0000ff","#ff0000","#ee6600","#ffffff","#000000","#000000","#ffffff","#22ee22","#00ffff","#ffffff","#ffffff","#0000ee","#00dd00","#ee00ee","#ffffff","#00ffff","#ffff00","#800080","#22ee22"]},"legend":{"title":null,"orient":"none","legendX":11,"legendY":7,"columns":2,"columnPadding":14,"rowPadding":0,"symbolSize":26,"labelFont":"Liberation Sans","labelFontSize":9,"labelColor":"#111","labelOffset":-1,"symbolStrokeWidth":0.8}},
"stroke":{"field":"s","type":"nominal","scale":{"domain":["Ritter-Observ.","Schanne","Hanisch","Kalbermatten","Schirmer","Desnoux","Debreuil","Pollmann","Calvente","Lester","Favaro","Garde","Sawicki","Stober","Mauclaire","Catanzaro","Charbonnel","Schlatter","Heathcote","Guarro","Sawicki ","Leonardi","Buil","Powles","Houpert"],"range":["#222222","#aa33aa","#000000","#000044","#444444","#333333","#222222","#333333","#333333","#ff3333","#000000","#000000","#333333","#333333","#333333","#222222","#3344ff","#000044","#333333","#444444","#333333","#333333","#222222","#333333","#333333"]},"legend":{"title":null,"orient":"none","legendX":11,"legendY":7,"columns":2,"columnPadding":14,"rowPadding":0,"symbolSize":26,"labelFont":"Liberation Sans","labelFontSize":9,"labelColor":"#111","labelOffset":-1,"symbolStrokeWidth":0.8}},
"shape":{"field":"s","type":"nominal","scale":{"domain":["Ritter-Observ.","Schanne","Hanisch","Kalbermatten","Schirmer","Desnoux","Debreuil","Pollmann","Calvente","Lester","Favaro","Garde","Sawicki","Stober","Mauclaire","Catanzaro","Charbonnel","Schlatter","Heathcote","Guarro","Sawicki ","Leonardi","Buil","Powles","Houpert"],"range":["circle","M-0.6,-0.6L0.6,-0.6L-0.6,0.6L0.6,0.6Z","M-1,0L1,0M0,-1L0,1","triangle-up","diamond","square","diamond","circle","square","circle","diamond","circle","circle","circle","triangle-up","triangle-up","diamond","square","triangle-up","triangle-up","circle","square","triangle-up","diamond","diamond"]},"legend":{"title":null,"orient":"none","legendX":11,"legendY":7,"columns":2,"columnPadding":14,"rowPadding":0,"symbolSize":26,"labelFont":"Liberation Sans","labelFontSize":9,"labelColor":"#111","labelOffset":-1,"symbolStrokeWidth":0.8}}
}},
{"data":{"name":"boxes"},"mark":{"type":"rect","fill":"#b8b8b8","fillOpacity":0.435,"stroke":"#444444","strokeOpacity":1,"strokeWidth":1.3},"encoding":{"x":{"field":"a","type":"quantitative"},"x2":{"field":"b"},"y":{"field":"lo","type":"quantitative"},"y2":{"field":"hi"}}},
{"data":{"name":"boxlabels"},"transform":[{"filter":"datum.r == 'h'"}],"mark":{"type":"text","font":"Liberation Sans","fontWeight":"bold","fontSize":9.5,"color":"#111"},"encoding":{"text":{"field":"t"}}},
{"data":{"name":"boxlabels"},"transform":[{"filter":"datum.r == 'v'"}],"mark":{"type":"text","font":"Liberation Sans","fontWeight":"bold","fontSize":9.5,"color":"#111","angle":270},"encoding":{"text":{"field":"t"}}}
]},
{"width":596,"height":340,"view":{"stroke":null},
"encoding":{"x":{"field":"x","type":"quantitative","scale":{"domain":[5,30],"nice":false,"range":[11,596]},"axis":{"values":[5,6,7,8,9,10,11,12,13,14,15,16,17,18,19,20,21,22,23,24,25,26,27,28,29,30],"labelExpr":"datum.value % 5 == 0 ? format(datum.value,'.1f') : ''","labelOverlap":false,"labelFlush":false,"title":"EW Hα [Angstr.]","titleX":303,"domain":false,"grid":false,"tickSize":-3,"tickColor":"#666","labelPadding":19,"labelFont":"Liberation Sans","labelFontWeight":"bold","labelFontSize":14.5,"labelColor":"#111","titleFont":"Liberation Sans","titleFontWeight":"bold","titleFontSize":14,"titleColor":"#111","titlePadding":10}},
"y":{"field":"y","type":"quantitative","scale":{"domain":[0,2000],"nice":false},"axis":{"values":[0,200,400,600,800,1000,1200,1400,1600,1800,2000],"labelExpr":"datum.value % 400 == 0 ? datum.value : ''","labelOverlap":false,"labelFlush":false,"offset":-11,"title":"EW He6678 [mA]","domain":false,"grid":false,"tickSize":-4,"tickColor":"#666","labelPadding":17,"labelFont":"Liberation Sans","labelFontWeight":"bold","labelFontSize":14.5,"labelColor":"#111","titleFont":"Liberation Sans","titleFontWeight":"bold","titleFontSize":14,"titleColor":"#111","titlePadding":6}}},
"layer":[
{"data":{"name":"frame"},"mark":{"type":"rect","fillOpacity":0,"stroke":"#666","strokeWidth":1.5},"encoding":{"x":{"field":"a","type":"quantitative"},"x2":{"field":"b"},"y":{"field":"lo","type":"quantitative"},"y2":{"field":"hi"}}},
{"data":{"name":"he"},"mark":{"type":"errorbar","ticks":{"size":5,"color":"#555"},"rule":{"color":"#555"}},"encoding":{"yError":{"field":"ye"}}},
{"data":{"name":"he"},"mark":{"type":"errorbar","ticks":{"size":5,"color":"#555"},"rule":{"color":"#555"}},"encoding":{"xError":{"field":"xe"}}},
{"data":{"name":"fits"},"mark":{"type":"line","color":"#111","strokeWidth":1.2,"strokeDash":[4,3]},"encoding":{"detail":{"field":"f"}}},
{"data":{"name":"he"},"mark":{"type":"point","strokeWidth":1,"opacity":1,"fillOpacity":1},
"encoding":{
"size":{"field":"s","type":"nominal","scale":{"type":"ordinal","domain":["~ JD 2455400-7600","~ JD 2453700-5400","~ JD 2453400-3600"],"range":[34,46,70]},"legend":null},
"fill":{"field":"s","type":"nominal","scale":{"domain":["~ JD 2453400-3600","~ JD 2453700-5400","~ JD 2455400-7600"],"range":["#000000","#000000","transparent"]},"legend":{"title":null,"orient":"none","legendX":34,"legendY":21,"rowPadding":5,"symbolSize":48,"labelFont":"Liberation Sans","labelFontWeight":"bold","labelFontSize":11,"labelColor":"#222","labelOffset":1}},
"stroke":{"field":"s","type":"nominal","scale":{"domain":["~ JD 2453400-3600","~ JD 2453700-5400","~ JD 2455400-7600"],"range":["#000000","#000000","#444444"]},"legend":{"title":null,"orient":"none","legendX":34,"legendY":21,"rowPadding":5,"symbolSize":48,"labelFont":"Liberation Sans","labelFontWeight":"bold","labelFontSize":11,"labelColor":"#222","labelOffset":1}},
"shape":{"field":"s","type":"nominal","scale":{"domain":["~ JD 2453400-3600","~ JD 2453700-5400","~ JD 2455400-7600"],"range":["triangle-up","square","square"]},"legend":{"title":null,"orient":"none","legendX":34,"legendY":21,"rowPadding":5,"symbolSize":48,"labelFont":"Liberation Sans","labelFontWeight":"bold","labelFontSize":11,"labelColor":"#222","labelOffset":1}}
}}
]}
]}
